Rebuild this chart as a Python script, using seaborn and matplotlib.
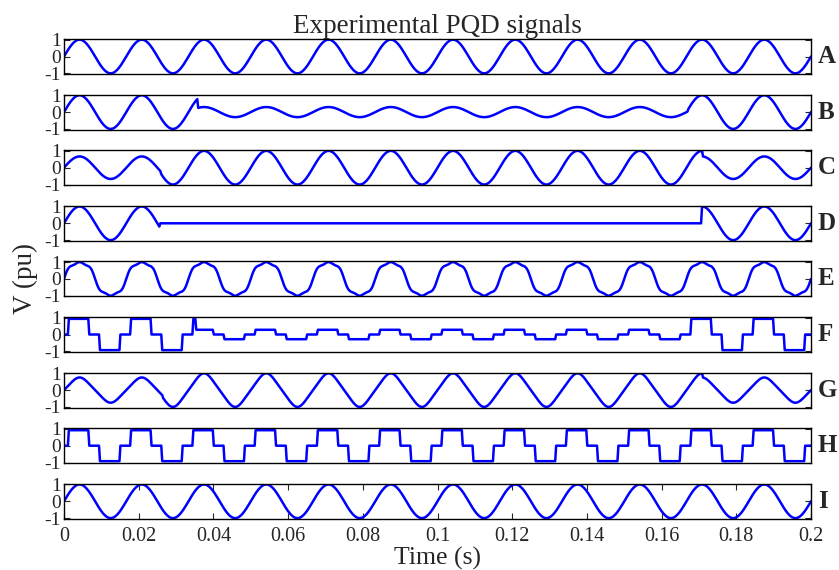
import numpy as np
import pandas as pd
import matplotlib
matplotlib.use("Agg")
import matplotlib.pyplot as plt
import seaborn as sns

sns.set_style("white")
plt.rcParams["font.family"] = ["Liberation Serif", "DejaVu Serif"]

# --- recording settings -------------------------------------------------
SAMPLE_RATE = 3840.0      # samples per second (64 per cycle)
F0 = 60.0                 # supply frequency, Hz
T_END = 0.2               # record length, s

panel_labels = ["A", "B", "C", "D", "E", "F", "G", "H", "I"]
xtick_values = [0, 0.02, 0.04, 0.06, 0.08, 0.1, 0.12, 0.14, 0.16, 0.18, 0.2]
xtick_labels = ["0", "0.02", "0.04", "0.06", "0.08", "0.1", "0.12", "0.14",
                "0.16", "0.18", "0.2"]
ytick_values = [-1, 0, 1]
ytick_labels = ["-1", "0", "1"]

# --- event envelopes: segment boundaries (s) and per-unit amplitude ------
A_times = [0.0, 0.2];                  A_amps = [1.0]
B_times = [0.0, 0.0358, 0.167, 0.2];   B_amps = [1.0, 0.30, 1.0]
C_times = [0.0, 0.026, 0.171, 0.2];    C_amps = [0.67, 1.0, 0.67]
D_times = [0.0, 0.0257, 0.1706, 0.2];  D_amps = [1.0, 0.0, 1.0]
E_times = [0.0, 0.2];                  E_amps = [1.0]
F_times = [0.0, 0.0353, 0.1676, 0.2];  F_amps = [0.93, 0.28, 0.93]
G_times = [0.0, 0.0265, 0.171, 0.2];   G_amps = [0.75, 1.0, 0.75]
H_times = [0.0, 0.2];                  H_amps = [0.92]
I_times = [0.0, 0.2];                  I_amps = [1.0]

# harmonic orders and relative magnitudes of the distorted records
E_orders = [3, 5];  E_mags = [0.12, 0.07]
G_orders = [3];     G_mags = [-0.05]

# three-level stepped waveform: switching angle and phase lag (degrees)
STEP_ANGLE = 29.5
STEP_LAG = 6.5


def envelope(t, times, amps):
    idx = np.searchsorted(np.asarray(times), t, side="right") - 1
    idx = np.clip(idx, 0, len(amps) - 1)
    return np.asarray(amps)[idx]


def harmonic_wave(theta, orders, mags):
    v = np.sin(theta)
    for k, m in zip(orders, mags):
        v = v + m * np.sin(k * theta)
    return v


def sine_record(t, orders=(), mags=()):
    one_cycle = np.linspace(0, 2 * np.pi, 4000)
    peak = np.max(np.abs(harmonic_wave(one_cycle, orders, mags)))
    return harmonic_wave(2 * np.pi * F0 * t, orders, mags) / peak


def stepped_record(t):
    s = np.sin(2 * np.pi * F0 * t + np.deg2rad(STEP_LAG))
    level = np.sin(np.deg2rad(STEP_ANGLE))
    return np.where(s > level, 1.0, np.where(s < -level, -1.0, 0.0))


t = np.arange(0, int(round(T_END * SAMPLE_RATE)) + 1) / SAMPLE_RATE

signals = {
    "A": sine_record(t) * envelope(t, A_times, A_amps),
    "B": sine_record(t) * envelope(t, B_times, B_amps),
    "C": sine_record(t) * envelope(t, C_times, C_amps),
    "D": sine_record(t) * envelope(t, D_times, D_amps),
    "E": sine_record(t, E_orders, E_mags) * envelope(t, E_times, E_amps),
    "F": stepped_record(t) * envelope(t, F_times, F_amps),
    "G": sine_record(t, G_orders, G_mags) * envelope(t, G_times, G_amps),
    "H": stepped_record(t) * envelope(t, H_times, H_amps),
    "I": sine_record(t) * envelope(t, I_times, I_amps),
}

# --- figure ---------------------------------------------------------------
W, H = 839, 570
fig = plt.figure(figsize=(W / 100, H / 100), dpi=100)

left_px, right_px = 64, 811
top0_px, pitch_px, height_px = 39, 55.6, 35

for i, name in enumerate(panel_labels):
    top_px = top0_px + i * pitch_px
    ax = fig.add_axes([left_px / W, 1 - (top_px + height_px) / H,
                       (right_px - left_px) / W, height_px / H])
    df = pd.DataFrame({"Time": t, "V": signals[name]})
    sns.lineplot(data=df, x="Time", y="V", ax=ax, color="#0000FF",
                 linewidth=1.8, estimator=None, sort=False, legend=False)
    ax.set_xlim(0, T_END)
    ax.set_ylim(-1.04, 1.04)
    ax.set_xlabel("")
    ax.set_ylabel("")
    ax.set_yticks(ytick_values)
    ax.set_yticklabels(ytick_labels)
    ax.tick_params(axis="y", direction="in", length=4, width=0.8,
                   right=True, left=True, labelsize=14, pad=2)
    for sp in ax.spines.values():
        sp.set_visible(True)
        sp.set_color("black")
        sp.set_linewidth(1.0)
    if i == len(panel_labels) - 1:
        ax.set_xticks(xtick_values)
        ax.set_xticklabels(xtick_labels)
        ax.tick_params(axis="x", direction="in", length=4, width=0.8,
                       top=True, bottom=True, labelsize=14.5, pad=6)
    else:
        ax.set_xticks([])
    ax.text(1.009, 0.5, name, transform=ax.transAxes, ha="left",
            va="center", fontsize=18, fontweight="bold")

cx = (left_px + right_px) / 2 / W
fig.text(cx, 1 - 33 / H, "Experimental PQD signals", ha="center",
         va="baseline", fontsize=19.5)
fig.text(cx, 1 - 565 / H, "Time (s)", ha="center", va="baseline",
         fontsize=18.5)
fig.text(25 / W, 1 - 279 / H, "V (pu)", rotation=90, ha="center",
         va="center", fontsize=19.5)

fig.savefig("out.png", dpi=100, facecolor="white")
